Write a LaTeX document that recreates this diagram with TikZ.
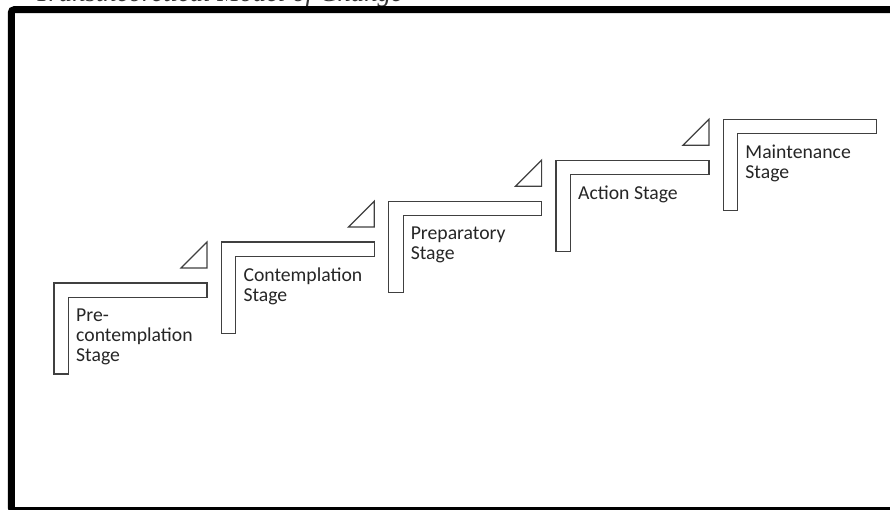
\documentclass[tikz,border=0pt]{standalone}
\usepackage{fontspec}
\setmainfont{Liberation Serif}
\newfontfamily\stagefont{Carlito}
\definecolor{stageline}{HTML}{404040}
\definecolor{stagetext}{HTML}{262626}
\tikzset{
  stageshape/.style={draw=stageline, line width=1.2pt, fill=white, line join=miter},
  stagetri/.style={draw=stageline, line width=1.2pt, line join=miter},
  stagelabel/.style={anchor=north west, inner sep=0pt, align=left, text=stagetext,
    font=\stagefont\fontsize{19.7}{20}\selectfont},
  frameline/.style={draw=black, line width=7pt, rounded corners=3pt},
  titlelabel/.style={anchor=base west, inner sep=0pt, text=black!80, font=\itshape\fontsize{26.7}{30}\selectfont}
}
\begin{document}
\begin{tikzpicture}[x=1pt,y=-1pt]
\useasboundingbox (0,0) rectangle (890,510);
\fill[white] (0,0) rectangle (890,510);
% title, mostly cut off by the top of the page
\node[titlelabel] (title) at (35,2) {Transtheoretical Model of Change};
% frame
\draw[frameline] (11.3,9.7) rectangle (905,510.5);
% stages
\foreach \i/\lab in {0/{Pre-\\contemplation\\Stage}, 1/{Contemplation\\Stage}, 2/{Preparatory\\Stage}, 3/{Action Stage}, 4/{Maintenance\\Stage}}{
  \pgfmathsetmacro{\X}{54+167.3*\i}
  \pgfmathsetmacro{\Y}{283-40.9*\i}
  \draw[stageshape] (\X,\Y) -- (\X+153,\Y) -- (\X+153,\Y+14.5) -- (\X+14.5,\Y+14.5)
     -- (\X+14.5,\Y+91) -- (\X,\Y+91) -- cycle;
  \node[stagelabel] (stage\i) at (\X+22,\Y+25.5) {\lab};
}
\foreach \i in {0,1,2,3}{
  \pgfmathsetmacro{\X}{54+167.3*\i}
  \pgfmathsetmacro{\Y}{283-40.9*\i}
  \draw[stagetri] (\X+127,\Y-15) -- (\X+153,\Y-15) -- (\X+153,\Y-41) -- cycle;
}
\end{tikzpicture}
\end{document}
